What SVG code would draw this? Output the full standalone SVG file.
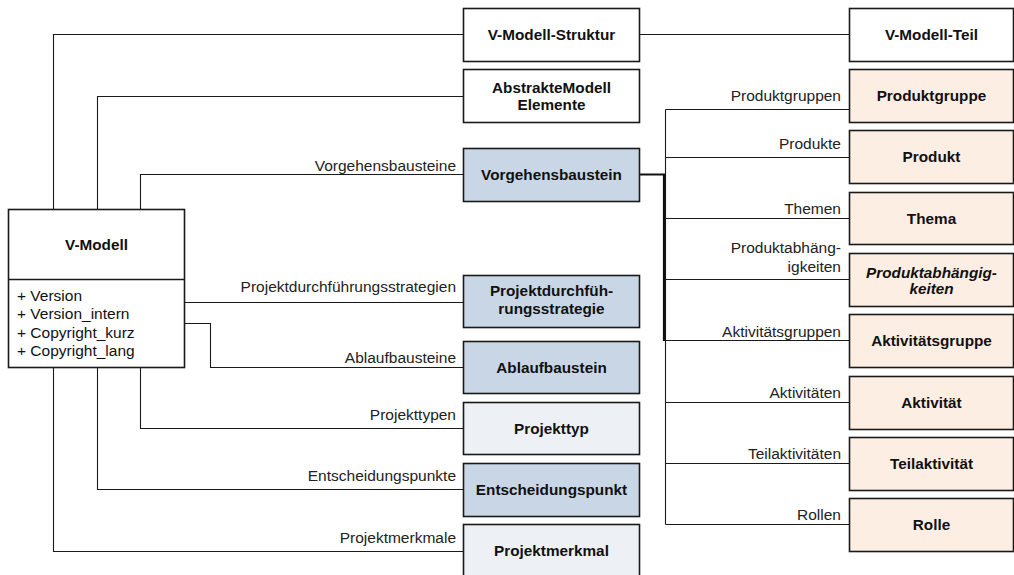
<svg xmlns="http://www.w3.org/2000/svg" width="1014" height="575" viewBox="0 0 1014 575">
<style>
.bg{fill:#ffffff}
.box{stroke:#1a1a1a;stroke-width:1.6}
.w{fill:#ffffff}
.b{fill:#c9d6e5}
.l{fill:#edf0f5}
.o{fill:#fdeee3}
.t{font-family:"Liberation Sans",Arial,sans-serif;font-size:15.3px;font-weight:bold;fill:#111;text-anchor:middle}
.it{font-style:italic}
.lab{font-family:"Liberation Sans",Arial,sans-serif;font-size:15.5px;fill:#222;text-anchor:end}
.att{font-family:"Liberation Sans",Arial,sans-serif;font-size:15.5px;fill:#111}
.c{fill:none;stroke:#1a1a1a;stroke-width:1.1}
.thick{fill:none;stroke:#111;stroke-width:2.2}
</style>
<rect class="bg" x="0" y="0" width="1014" height="575"/>
<g id="connectors">
<path class="c" d="M463,34.5 H53.5 V551.5 H463"/>
<path class="c" d="M463,96.5 H97.5 V489.5 H463"/>
<path class="c" d="M463,174.5 H140.5 V428.5 H463"/>
<path class="c" d="M184,302.5 H463"/>
<path class="c" d="M184,323.5 H210.5 V367.5 H463"/>
<path class="c" d="M639,34.5 H849"/>
<path class="c" d="M665.5,109.5 V524.5"/>
<path class="c" d="M665.5,109.5 H849 M665.5,157.5 H849 M665.5,218.5 H849 M665.5,279.5 H849 M665.5,340.5 H849 M665.5,402.5 H849 M665.5,463.5 H849 M665.5,524.5 H849"/>
<path class="thick" d="M639,174.5 H664 V341"/>
<text class="lab" x="456" y="170.5">Vorgehensbausteine</text>
<text class="lab" x="456" y="291.5">Projektdurchführungsstrategien</text>
<text class="lab" x="456" y="362.5">Ablaufbausteine</text>
<text class="lab" x="456" y="420">Projekttypen</text>
<text class="lab" x="456" y="481">Entscheidungspunkte</text>
<text class="lab" x="456" y="543">Projektmerkmale</text>
<text class="lab" x="841" y="101">Produktgruppen</text>
<text class="lab" x="841" y="148.5">Produkte</text>
<text class="lab" x="841" y="213.5">Themen</text>
<text class="lab" x="841" y="253">Produktabhäng-</text>
<text class="lab" x="841" y="272">igkeiten</text>
<text class="lab" x="841" y="337">Aktivitätsgruppen</text>
<text class="lab" x="841" y="397.5">Aktivitäten</text>
<text class="lab" x="841" y="458.5">Teilaktivitäten</text>
<text class="lab" x="841" y="520">Rollen</text>
</g>
<g id="v-modell">
<rect class="box w" x="8.5" y="209.5" width="176" height="158"/>
<line class="box" x1="8.5" y1="279.5" x2="184.5" y2="279.5"/>
<text class="t" x="96.5" y="250">V-Modell</text>
<text class="att" x="17" y="300.5">+ Version</text>
<text class="att" x="17" y="319">+ Version_intern</text>
<text class="att" x="17" y="337.5">+ Copyright_kurz</text>
<text class="att" x="17" y="356">+ Copyright_lang</text>
</g>
<g id="v-modell-struktur"><rect class="box w" x="463.5" y="8.5" width="176" height="53"/><text class="t" x="551.5" y="39.5">V-Modell-Struktur</text></g>
<g id="abstrakte-modell-elemente"><rect class="box w" x="463.5" y="69.5" width="176" height="53"/><text class="t" x="551.5" y="92.5">AbstrakteModell</text><text class="t" x="551.5" y="110">Elemente</text></g>
<g id="vorgehensbaustein"><rect class="box b" x="463.5" y="148.5" width="176" height="53"/><text class="t" x="551.5" y="179.5">Vorgehensbaustein</text></g>
<g id="projektdurchfuehrungsstrategie"><rect class="box b" x="463.5" y="275.5" width="176" height="52"/><text class="t" x="551.5" y="296">Projektdurchfüh-</text><text class="t" x="551.5" y="313.5">rungsstrategie</text></g>
<g id="ablaufbaustein"><rect class="box b" x="463.5" y="341.5" width="176" height="52"/><text class="t" x="551.5" y="372.5">Ablaufbaustein</text></g>
<g id="projekttyp"><rect class="box l" x="463.5" y="402.5" width="176" height="52"/><text class="t" x="551.5" y="433.5">Projekttyp</text></g>
<g id="entscheidungspunkt"><rect class="box b" x="463.5" y="463.5" width="176" height="53"/><text class="t" x="551.5" y="494.5">Entscheidungspunkt</text></g>
<g id="projektmerkmal"><rect class="box l" x="463.5" y="524.5" width="176" height="53"/><text class="t" x="551.5" y="556">Projektmerkmal</text></g>
<g id="v-modell-teil"><rect class="box w" x="849.5" y="8.5" width="164" height="53"/><text class="t" x="931.5" y="39.5">V-Modell-Teil</text></g>
<g id="produktgruppe"><rect class="box o" x="849.5" y="69.5" width="164" height="53"/><text class="t" x="931.5" y="101">Produktgruppe</text></g>
<g id="produkt"><rect class="box o" x="849.5" y="130.5" width="164" height="53"/><text class="t" x="931.5" y="162">Produkt</text></g>
<g id="thema"><rect class="box o" x="849.5" y="192.5" width="164" height="52"/><text class="t" x="931.5" y="223.5">Thema</text></g>
<g id="produktabhaengigkeiten"><rect class="box o" x="849.5" y="253.5" width="164" height="53"/><text class="t it" x="931.5" y="277.5">Produktabhängig-</text><text class="t it" x="931.5" y="294">keiten</text></g>
<g id="aktivitaetsgruppe"><rect class="box o" x="849.5" y="314.5" width="164" height="53"/><text class="t" x="931.5" y="345.5">Aktivitätsgruppe</text></g>
<g id="aktivitaet"><rect class="box o" x="849.5" y="376.5" width="164" height="53"/><text class="t" x="931.5" y="407.5">Aktivität</text></g>
<g id="teilaktivitaet"><rect class="box o" x="849.5" y="437.5" width="164" height="53"/><text class="t" x="931.5" y="468.5">Teilaktivität</text></g>
<g id="rolle"><rect class="box o" x="849.5" y="498.5" width="164" height="53"/><text class="t" x="931.5" y="530">Rolle</text></g>
</svg>
